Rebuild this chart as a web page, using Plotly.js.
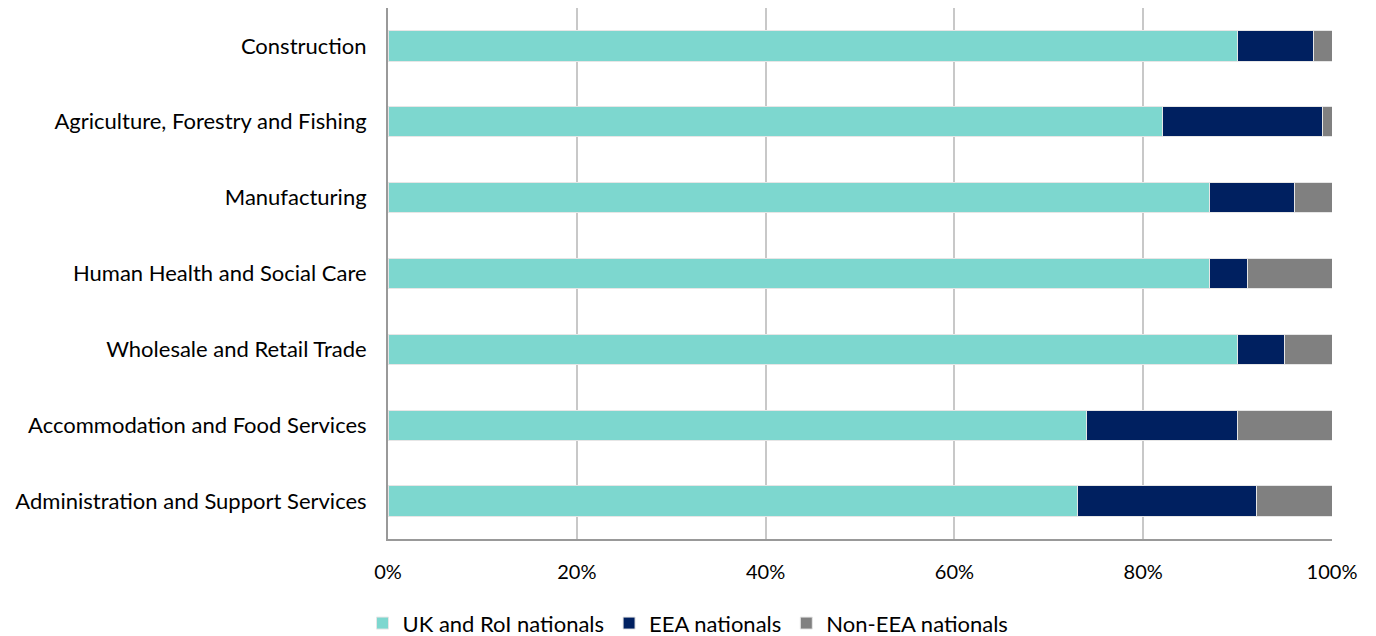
<!DOCTYPE html>
<html>
<head>
<meta charset="utf-8">
<script src="https://cdn.plot.ly/plotly-3.0.1.min.js"></script>
<style>html,body{margin:0;padding:0;background:#fff;}#chart{width:1376px;height:636px;}</style>
</head>
<body>
<div id="chart"></div>
<script>
const categories = ["Construction", "Agriculture, Forestry and Fishing", "Manufacturing", "Human Health and Social Care", "Wholesale and Retail Trade", "Accommodation and Food Services", "Administration and Support Services"];
const ukRoi = [90, 82, 87, 87, 90, 74, 73];
const eea = [8, 17, 9, 4, 5, 16, 19];
const nonEea = [2, 1, 4, 9, 5, 10, 8];
const tickVals = [0, 20, 40, 60, 80, 100];
const tickText = ["0%", "20%", "40%", "60%", "80%", "100%"];

const fontFam = "Lato, 'Noto Sans', sans-serif";
function mk(name, vals, color) {
  return {type: 'bar', orientation: 'h', name: name, x: vals, y: categories,
    marker: {color: color, line: {color: '#e6e6e6', width: 1}}, width: 0.4, hoverinfo: 'x+name'};
}
const data = [
  mk('UK and RoI nationals', ukRoi, '#7dd7cf'),
  mk('EEA nationals', eea, '#002060'),
  mk('Non-EEA nationals', nonEea, '#808080')
];
const layout = {
  width: 1376, height: 636,
  margin: {l: 388, r: 44, t: 8, b: 97, pad: 0},
  barmode: 'stack',
  paper_bgcolor: '#fff', plot_bgcolor: '#fff',
  font: {family: fontFam, size: 22, color: '#000'},
  xaxis: {range: [0, 100], tickvals: tickVals, ticktext: tickText, showgrid: true,
    gridcolor: '#c8c8c8', gridwidth: 2, zeroline: false, showline: true, linecolor: '#999', linewidth: 2,
    ticks: '', ticklen: 0, ticklabelstandoff: 14, tickfont: {size: 20, family: fontFam}, fixedrange: true},
  yaxis: {autorange: 'reversed', showline: true, linecolor: '#999', linewidth: 2, showgrid: false,
    ticks: '', ticklabelstandoff: 15, tickfont: {size: 22, family: fontFam}, fixedrange: true},
  showlegend: true,
  legend: {orientation: 'h', xref: 'container', yref: 'container', x: 0.5, xanchor: 'center',
    y: 0.02, yanchor: 'middle', font: {size: 22, family: fontFam}, itemwidth: 30, traceorder: 'normal'},
  bargap: 0.6
};
Plotly.newPlot('chart', data, layout, {displayModeBar: false, staticPlot: true});
</script>
</body>
</html>
